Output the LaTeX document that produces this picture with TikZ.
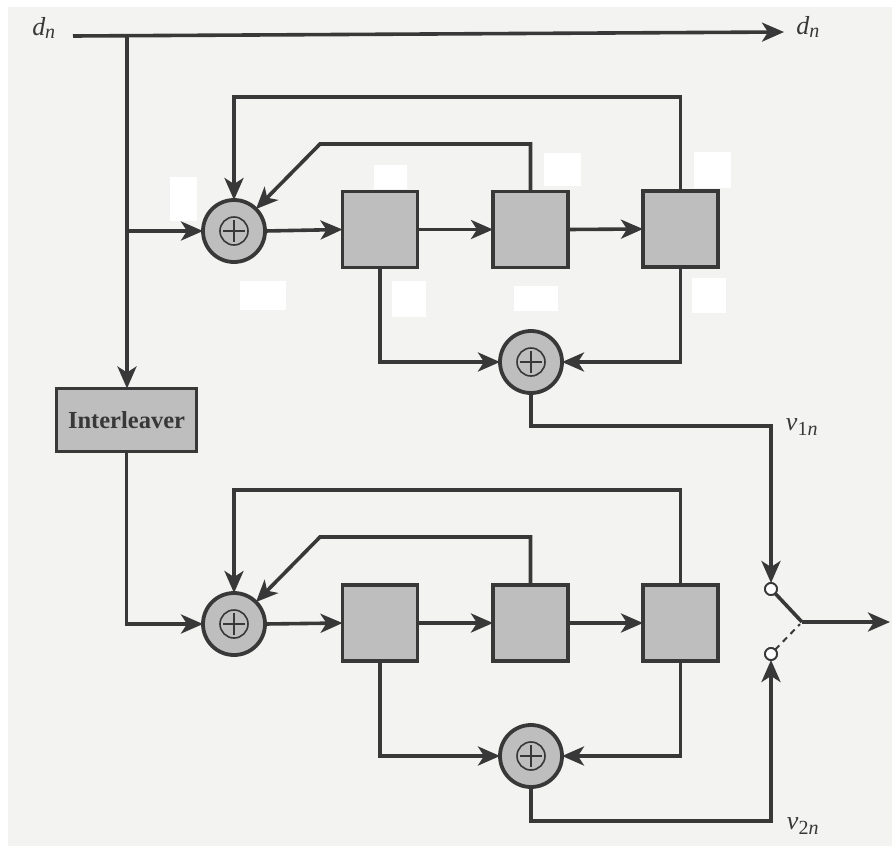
\documentclass[tikz,border=0pt]{standalone}
\usepackage{fontspec}
\setmainfont{Liberation Serif}
\usetikzlibrary{arrows.meta}
\definecolor{paper}{HTML}{F3F3F1}
\definecolor{ink}{HTML}{383838}
\definecolor{shade}{HTML}{BEBEBE}
\newcommand{\subit}[1]{\textsubscript{\fontsize{20}{20}\selectfont #1}}
\tikzset{
  x=1pt,y=-1pt,
  wire/.style={draw=ink,line width=3.6pt},
  arrowwire/.style={wire,-{Stealth[length=22pt,width=19pt,inset=6pt]}},
  regbox/.style={draw=ink,line width=3.8pt,fill=shade,minimum width=75pt,minimum height=76pt,inner sep=0,outer sep=0},
  adderc/.style={circle,draw=ink,line width=3.8pt,fill=shade,minimum size=62pt,inner sep=0,outer sep=0,
    path picture={
      \draw[ink,line width=1.6pt] (path picture bounding box.center) circle (14pt);
      \draw[ink,line width=1.6pt] ([xshift=-11pt]path picture bounding box.center) -- ([xshift=11pt]path picture bounding box.center);
      \draw[ink,line width=1.6pt] ([yshift=-11pt]path picture bounding box.center) -- ([yshift=11pt]path picture bounding box.center);
    }},
  tap/.style={circle,draw=ink,line width=1.8pt,fill=white,minimum size=12pt,inner sep=0,outer sep=0},
  patch/.style={fill=white,draw=none},
  lab/.style={text=ink,font=\fontsize{26}{26}\selectfont\itshape,inner sep=0},
  interbox/.style={draw=ink,line width=3.8pt,fill=shade,minimum width=140pt,minimum height=63pt,inner sep=0,outer sep=0,
    text=ink,font=\fontsize{24.5}{24.5}\selectfont\bfseries}
}
\begin{document}
\begin{tikzpicture}
\useasboundingbox (0,0) rectangle (892,846);
\fill[white] (0,0) rectangle (892,846);
\fill[paper] (8,7) rectangle (892,846);
% erased label patches
\fill[patch] (170,177) rectangle (197,221);
\fill[patch] (374,165) rectangle (407,189);
\fill[patch] (240,281) rectangle (286,310);
\fill[patch] (392,281) rectangle (426,317);
\fill[patch] (544,153) rectangle (581,186);
\fill[patch] (694,152) rectangle (731,188);
\fill[patch] (514,286) rectangle (558,311);
\fill[patch] (692,278) rectangle (726,313);
% blocks
\node[adderc] (addA) at (234,231) {};
\node[regbox] (regA1) at (380,229.5) {};
\node[regbox] (regA2) at (530.5,229.5) {};
\node[regbox] (regA3) at (680.5,229) {};
\node[adderc] (sumA) at (531,362) {};
\node[interbox] (inter) at (126.5,420) {Interleaver};
\node[adderc] (addB) at (234,624) {};
\node[regbox] (regB1) at (380,623) {};
\node[regbox] (regB2) at (530.5,623) {};
\node[regbox] (regB3) at (680.5,623) {};
\node[adderc] (sumB) at (531,756) {};
\node[tap] (swA) at (771,589) {};
\node[tap] (swB) at (771,654) {};
\coordinate (swJ) at (802,622);
\coordinate (swOut) at (890,622);
% labels
\node[lab] (dIn) at (44,28) {d\subit{n}};
\node[lab] (dOut) at (808,27) {d\subit{n}};
\node[lab] (vOne) at (802,427) {v\subit{\upshape 1\itshape n}};
\node[lab] (vTwo) at (803,826) {v\subit{\upshape 2\itshape n}};
% input
\coordinate (inL) at (73,36);
\coordinate (inR) at (784,32);
\coordinate (tapTop) at (127,36);
\coordinate (tapMid) at (127,231);
\draw[arrowwire] (inL) -- (inR);
\draw[arrowwire] (tapTop) -- (inter.north -| tapTop);
\draw[arrowwire] (tapMid) -- (addA.west);
\draw[arrowwire] (inter.south) |- (addB.west);
% upper encoder
\draw[arrowwire] (addA.east) -- (regA1.west);
\draw[arrowwire] (regA1.east) -- (regA2.west);
\draw[arrowwire] (regA2.east) -- (regA3.west);
\draw[arrowwire] (regA3.north) |- (234,97) -- (addA.north);
\draw[arrowwire] (regA2.north) |- (320,144) -- (addA.45);
\draw[arrowwire] (regA1.south) |- (sumA.west);
\draw[arrowwire] (regA3.south) |- (sumA.east);
\draw[arrowwire] (sumA.south) |- (771,426) -- (swA.north);
% lower encoder
\draw[arrowwire] (addB.east) -- (regB1.west);
\draw[arrowwire] (regB1.east) -- (regB2.west);
\draw[arrowwire] (regB2.east) -- (regB3.west);
\draw[arrowwire] (regB3.north) |- (234,490) -- (addB.north);
\draw[arrowwire] (regB2.north) |- (320,537) -- (addB.45);
\draw[arrowwire] (regB1.south) |- (sumB.west);
\draw[arrowwire] (regB3.south) |- (sumB.east);
\draw[arrowwire] (sumB.south) |- (771,821) -- (swB.south);
% switch
\draw[wire] (swA) -- (swJ);
\draw[arrowwire] (swJ) -- (swOut);
\draw[draw=ink,line width=2pt,dash pattern=on 6pt off 5pt,shorten >=3pt] (swB) -- (swJ);
\node[tap] at (swA) {};
\node[tap] at (swB) {};
\end{tikzpicture}
\end{document}
